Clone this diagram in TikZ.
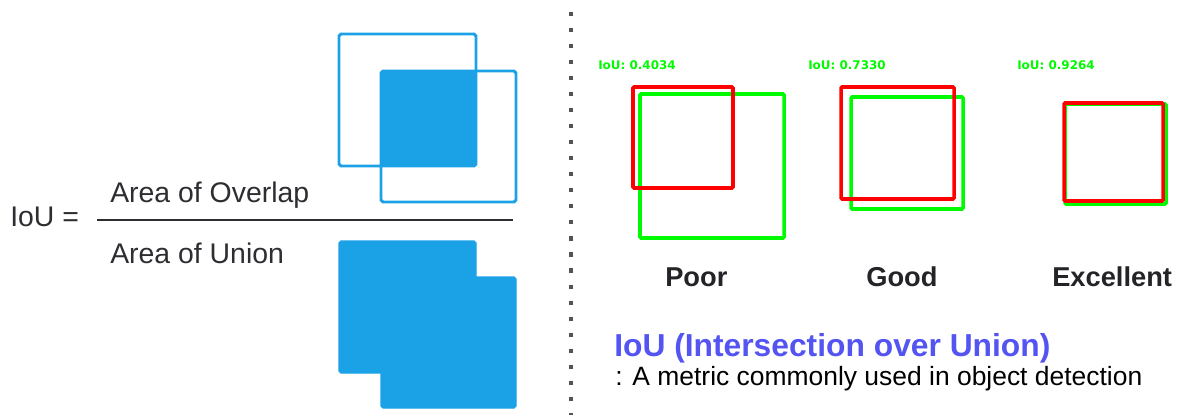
\documentclass[tikz,border=0pt]{standalone}
\usepackage{fontspec}
\setmainfont{Liberation Sans}
\newfontfamily\cvfont{DejaVu Sans}
\definecolor{iouBlue}{RGB}{27,161,230}
\definecolor{iouTitle}{RGB}{84,84,242}
\definecolor{iouGreen}{RGB}{0,250,0}
\definecolor{iouRed}{RGB}{255,0,0}
\definecolor{iouText}{RGB}{45,45,50}
\tikzset{
	blueline/.style={draw=iouBlue, line width=2.1pt, rounded corners=1.4pt},
	bluefill/.style={fill=iouBlue, draw=iouBlue, line width=0.8pt, rounded corners=1.4pt},
	gtbox/.style={draw=iouGreen, line width=2.5pt, rounded corners=0.8pt},
	predbox/.style={draw=iouRed, line width=2.5pt, rounded corners=0.8pt},
	ioulabel/.style={anchor=base west, inner sep=0pt, text=iouGreen, font=\cvfont\bfseries\fontsize{8.5}{10}\selectfont},
	verdict/.style={anchor=base west, inner sep=0pt, text=iouText!80!black, font=\bfseries\fontsize{19.4}{23}\selectfont},
	formula/.style={anchor=base west, inner sep=0pt, text=iouText, font=\fontsize{20.2}{24}\selectfont}
}
\begin{document}
\begin{tikzpicture}[x=0.025cm, y=-0.025cm]
		\useasboundingbox (0,0) rectangle (1198,415);
		
		% (1) formula
		\node[formula] (iou) at (10,226) {IoU =};
		\node[formula] (overlap) at (110,202) {Area of Overlap};
		\node[formula] (union) at (110,263) {Area of Union};
		\draw[iouText, line width=1.5pt] (97,220) -- (513,220);
		
		% (2) overlap picture
		\draw[blueline] (339,34) rectangle (476,166);
		\draw[blueline] (381,71) rectangle (516,202);
		\draw[bluefill] (381,71) rectangle (476,166);
		
		% (3) union picture
		\draw[bluefill] (339,241) rectangle (476,373);
		\draw[bluefill] (381,277) rectangle (516,408);
		
		% (4) separator
		\draw[gray!20!black!75, line width=2.9pt, dash pattern=on 2.9pt off 8.5pt] (571,12) -- (571,415);
		
		% (5) poor
		\begin{scope}
			\node[ioulabel] (lblpoor) at (598,69) {IoU: 0.4034};
			\draw[gtbox] (640,94) rectangle (784,238);
			\draw[predbox] (633,87) rectangle (733,188);
			\node[verdict] (poor) at (665,286) {Poor};
		\end{scope}
		
		% (6) good
		\begin{scope}
			\node[ioulabel] (lblgood) at (808,69) {IoU: 0.7330};
			\draw[gtbox] (851,97) rectangle (963,209);
			\draw[predbox] (841,87) rectangle (954,199);
			\node[verdict] (good) at (866,286) {Good};
		\end{scope}
		
		% (7) excellent
		\begin{scope}
			\node[ioulabel] (lblexc) at (1017,69) {IoU: 0.9264};
			\draw[gtbox] (1065,104) rectangle (1166,204);
			\draw[predbox] (1064,103) rectangle (1163,201);
			\node[verdict] (excellent) at (1052,286) {Excellent};
		\end{scope}
		
		% (8) caption
		\node[anchor=base west, inner sep=0pt, text=iouTitle, font=\bfseries\fontsize{22.6}{27}\selectfont] (title) at (614,356) {IoU (Intersection over Union)};
		\node[anchor=base west, inner sep=0pt, text=black, font=\fontsize{18.8}{22}\selectfont] (subtitle) at (615,385) {: A metric commonly used in object detection};
	\end{tikzpicture}
\end{document}
